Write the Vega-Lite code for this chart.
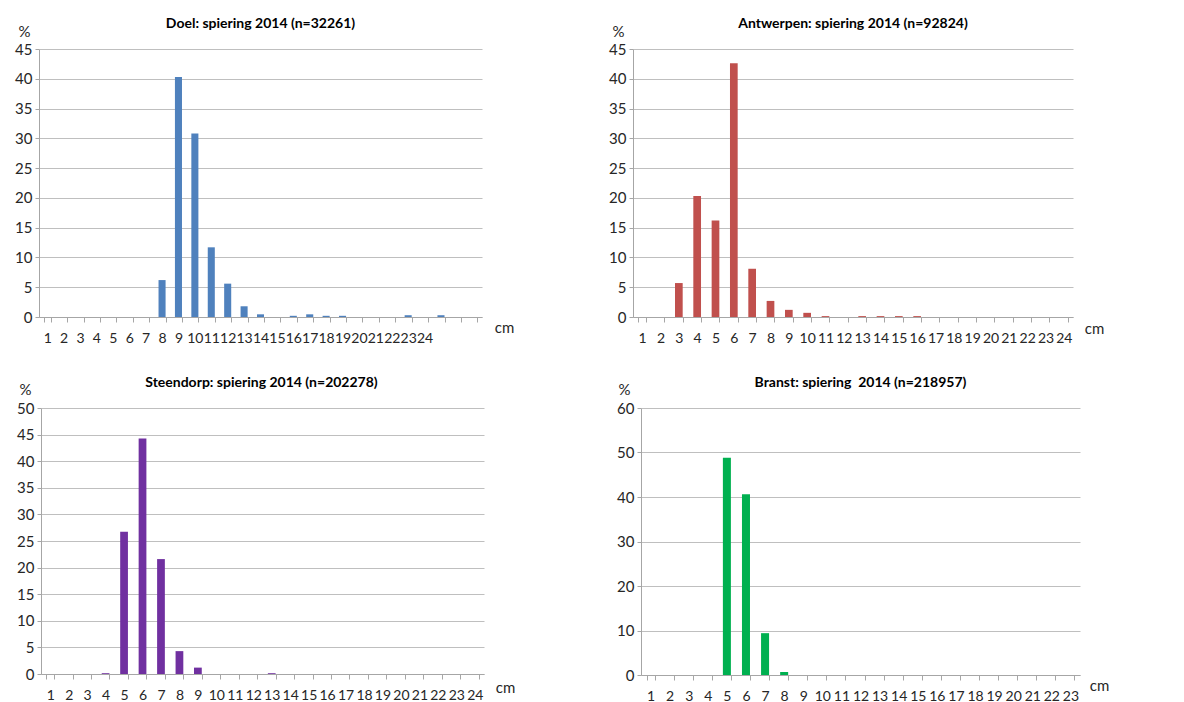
{
  "$schema": "https://vega.github.io/schema/vega-lite/v6.json",
  "background": "white",
  "padding": {"left": 14, "top": 17, "right": 5, "bottom": 0},
  "bounds": "flush",
  "columns": 2,
  "spacing": {"row": 91, "column": 149},
  "datasets": {
    "doel": [
      {"cm": 1, "pct": 0}, {"cm": 2, "pct": 0}, {"cm": 3, "pct": 0}, {"cm": 4, "pct": 0},
      {"cm": 5, "pct": 0}, {"cm": 6, "pct": 0}, {"cm": 7, "pct": 0}, {"cm": 8, "pct": 6.2},
      {"cm": 9, "pct": 40.3}, {"cm": 10, "pct": 30.8}, {"cm": 11, "pct": 11.7}, {"cm": 12, "pct": 5.6},
      {"cm": 13, "pct": 1.8}, {"cm": 14, "pct": 0.45}, {"cm": 15, "pct": 0}, {"cm": 16, "pct": 0.2},
      {"cm": 17, "pct": 0.45}, {"cm": 18, "pct": 0.2}, {"cm": 19, "pct": 0.2}, {"cm": 20, "pct": 0},
      {"cm": 21, "pct": 0}, {"cm": 22, "pct": 0}, {"cm": 23, "pct": 0.3}, {"cm": 24, "pct": 0},
      {"cm": 25, "pct": 0.3}, {"cm": 26, "pct": 0}, {"cm": 27, "pct": 0}
    ],
    "antwerpen": [
      {"cm": 1, "pct": 0}, {"cm": 2, "pct": 0}, {"cm": 3, "pct": 5.7}, {"cm": 4, "pct": 20.3},
      {"cm": 5, "pct": 16.2}, {"cm": 6, "pct": 42.6}, {"cm": 7, "pct": 8.1}, {"cm": 8, "pct": 2.7},
      {"cm": 9, "pct": 1.2}, {"cm": 10, "pct": 0.7}, {"cm": 11, "pct": 0.15}, {"cm": 12, "pct": 0},
      {"cm": 13, "pct": 0.15}, {"cm": 14, "pct": 0.15}, {"cm": 15, "pct": 0.15}, {"cm": 16, "pct": 0.15},
      {"cm": 17, "pct": 0}, {"cm": 18, "pct": 0}, {"cm": 19, "pct": 0}, {"cm": 20, "pct": 0},
      {"cm": 21, "pct": 0}, {"cm": 22, "pct": 0}, {"cm": 23, "pct": 0}, {"cm": 24, "pct": 0}
    ],
    "steendorp": [
      {"cm": 1, "pct": 0}, {"cm": 2, "pct": 0}, {"cm": 3, "pct": 0}, {"cm": 4, "pct": 0.15},
      {"cm": 5, "pct": 26.75}, {"cm": 6, "pct": 44.25}, {"cm": 7, "pct": 21.6}, {"cm": 8, "pct": 4.3},
      {"cm": 9, "pct": 1.2}, {"cm": 10, "pct": 0}, {"cm": 11, "pct": 0}, {"cm": 12, "pct": 0},
      {"cm": 13, "pct": 0.15}, {"cm": 14, "pct": 0}, {"cm": 15, "pct": 0}, {"cm": 16, "pct": 0},
      {"cm": 17, "pct": 0}, {"cm": 18, "pct": 0}, {"cm": 19, "pct": 0}, {"cm": 20, "pct": 0},
      {"cm": 21, "pct": 0}, {"cm": 22, "pct": 0}, {"cm": 23, "pct": 0}, {"cm": 24, "pct": 0}
    ],
    "branst": [
      {"cm": 1, "pct": 0}, {"cm": 2, "pct": 0}, {"cm": 3, "pct": 0}, {"cm": 4, "pct": 0},
      {"cm": 5, "pct": 48.8}, {"cm": 6, "pct": 40.6}, {"cm": 7, "pct": 9.4}, {"cm": 8, "pct": 0.67},
      {"cm": 9, "pct": 0}, {"cm": 10, "pct": 0}, {"cm": 11, "pct": 0}, {"cm": 12, "pct": 0},
      {"cm": 13, "pct": 0}, {"cm": 14, "pct": 0}, {"cm": 15, "pct": 0}, {"cm": 16, "pct": 0},
      {"cm": 17, "pct": 0}, {"cm": 18, "pct": 0}, {"cm": 19, "pct": 0}, {"cm": 20, "pct": 0},
      {"cm": 21, "pct": 0}, {"cm": 22, "pct": 0}, {"cm": 23, "pct": 0}
    ]
  },
  "concat": [
    {
      "width": 443, "height": 268,
      "data": {"name": "doel"},
      "title": {"text": "Doel: spiering 2014 (n=32261)", "offset": -7},
      "mark": {"type": "bar", "color": "#4F81BD"},
      "encoding": {
        "x": {"field": "cm", "type": "ordinal",
          "scale": {"paddingInner": 0.57, "paddingOuter": 0.285},
          "axis": {"title": "cm", "titleX": 465, "titleY": 10, "labelExpr": "datum.value > 24 ? '' : datum.label"}},
        "y": {"field": "pct", "type": "quantitative",
          "scale": {"domain": [0, 45]},
          "axis": {"values": [0, 5, 10, 15, 20, 25, 30, 35, 40, 45], "title": "%", "titleX": -15, "titleY": -18}}
      }
    },
    {
      "width": 440, "height": 268,
      "data": {"name": "antwerpen"},
      "title": {"text": "Antwerpen: spiering 2014 (n=92824)", "offset": -7},
      "mark": {"type": "bar", "color": "#C0504D"},
      "encoding": {
        "x": {"field": "cm", "type": "ordinal",
          "scale": {"paddingInner": 0.58, "paddingOuter": 0.29},
          "axis": {"title": "cm", "titleX": 461, "titleY": 11}},
        "y": {"field": "pct", "type": "quantitative",
          "scale": {"domain": [0, 45]},
          "axis": {"values": [0, 5, 10, 15, 20, 25, 30, 35, 40, 45], "title": "%", "titleX": -15, "titleY": -18}}
      }
    },
    {
      "width": 445, "height": 266,
      "data": {"name": "steendorp"},
      "title": {"text": "Steendorp: spiering 2014 (n=202278)", "offset": -8},
      "mark": {"type": "bar", "color": "#7030A0"},
      "encoding": {
        "x": {"field": "cm", "type": "ordinal",
          "scale": {"range": [2, 445], "paddingInner": 0.58, "paddingOuter": 0.29},
          "axis": {"title": "cm", "titleX": 466, "titleY": 13}},
        "y": {"field": "pct", "type": "quantitative",
          "scale": {"domain": [0, 50]},
          "axis": {"offset": -2, "values": [0, 5, 10, 15, 20, 25, 30, 35, 40, 45, 50], "title": "%", "titleX": -16, "titleY": -19}}
      }
    },
    {
      "width": 447, "height": 267,
      "data": {"name": "branst"},
      "title": {"text": "Branst: spiering\u00a0 2014 (n=218957)", "offset": -8, "dx": 4},
      "mark": {"type": "bar", "color": "#00B050"},
      "encoding": {
        "x": {"field": "cm", "type": "ordinal",
          "scale": {"range": [8, 447], "paddingInner": 0.58, "paddingOuter": 0.29},
          "axis": {"title": "cm", "titleX": 466, "titleY": 10}},
        "y": {"field": "pct", "type": "quantitative",
          "scale": {"domain": [0, 60]},
          "axis": {"offset": -8, "values": [0, 10, 20, 30, 40, 50, 60], "title": "%", "titleX": -17, "titleY": -19}}
      }
    }
  ],
  "config": {
    "font": "Lato",
    "view": {"stroke": null},
    "axis": {
      "labelFont": "Lato", "labelFontSize": 15, "labelColor": "#262626",
      "titleFont": "Lato", "titleFontSize": 15, "titleFontWeight": "normal", "titleColor": "#262626",
      "titleAngle": 0, "titleAlign": "center", "titleBaseline": "middle",
      "domainColor": "#A6A6A6", "tickColor": "#A6A6A6", "gridColor": "#BFBFBF"
    },
    "axisX": {"grid": false, "tickBand": "extent", "tickSize": 5, "labelFontSize": 14, "labelPadding": 9, "labelAngle": 0, "labelOverlap": false, "labelFlush": false, "labelBound": false},
    "axisY": {"grid": true, "tickSize": 4, "labelPadding": 3, "labelOverlap": false},
    "title": {"font": "Lato", "fontSize": 14, "fontWeight": "bold", "color": "#000000", "frame": "group", "anchor": "middle", "baseline": "alphabetic"}
  }
}
